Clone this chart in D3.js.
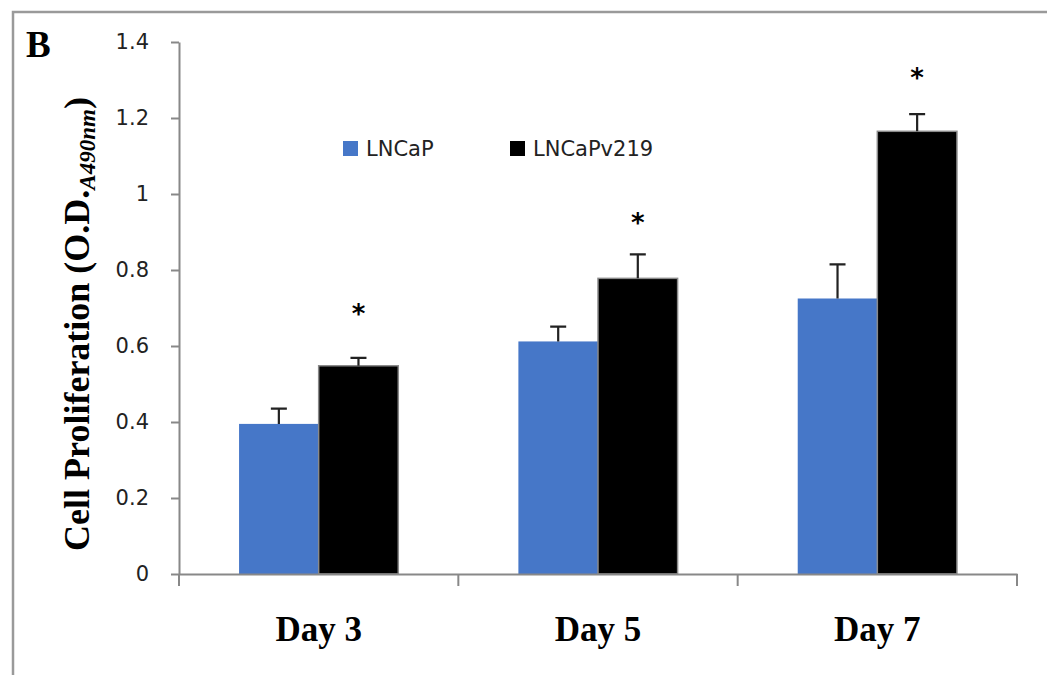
<!DOCTYPE html>
<html><head><meta charset="utf-8">
<script src="https://cdn.jsdelivr.net/npm/d3@7"></script>
<style>body{margin:0;background:#fff}</style></head>
<body><svg id="c" width="1047" height="675"></svg>
<script>
const days = ["Day 3", "Day 5", "Day 7"];
const series = ["LNCaP", "LNCaPv219"];
const lncap = [0.395, 0.612, 0.725];
const lncapErr = [0.040, 0.039, 0.090];
const v219 = [0.548, 0.778, 1.165];
const v219Err = [0.021, 0.063, 0.045];
const sigY = [0.70, 0.94, 1.32];
const yTicks = [0, 0.2, 0.4, 0.6, 0.8, 1, 1.2, 1.4];
const colors = ["#4677c8", "#000000"];

const svg = d3.select("#c");
const L = 179, R = 1017, T = 42, B = 574;

// frame
svg.append("path").attr("d", "M13,675V12H1047").attr("fill", "none")
  .attr("stroke", "#9a9a9a").attr("stroke-width", 2.5);

svg.append("text").attr("x", 26).attr("y", 57).text("B")
  .attr("font-family", "Liberation Serif, serif").attr("font-weight", "bold")
  .attr("font-size", 37).attr("fill", "#000");

const y = d3.scaleLinear().domain([0, 1.4]).range([B, T]);
const x = d3.scaleBand().domain(days).range([L, R]).padding(0);
const bw = x.bandwidth();
const x1 = d3.scaleBand().domain(series).range([bw * 0.215, bw * 0.785]).padding(0);

const rows = days.map((d, i) => ({day: d, vals: [
  {s: series[0], v: lncap[i], e: lncapErr[i]},
  {s: series[1], v: v219[i], e: v219Err[i]}
]}));

// bars
const g = svg.append("g");
const grp = g.selectAll("g.grp").data(rows).join("g")
  .attr("transform", d => `translate(${x(d.day)},0)`);
grp.selectAll("rect").data(d => d.vals).join("rect")
  .attr("x", d => x1(d.s)).attr("width", x1.bandwidth())
  .attr("y", d => y(d.v)).attr("height", d => y(0) - y(d.v))
  .attr("fill", (d, i) => colors[i])
  .attr("stroke", (d, i) => i === 1 ? "#8a8a8a" : "none")
  .attr("stroke-width", 1.5);
// error bars
grp.selectAll("path.err").data(d => d.vals).join("path")
  .attr("d", d => {
    const cx = x1(d.s) + x1.bandwidth() / 2;
    return `M${cx},${y(d.v)}V${y(d.v + d.e)}M${cx - 8},${y(d.v + d.e)}H${cx + 8}`;
  })
  .attr("stroke", "#222").attr("stroke-width", 2.2).attr("fill", "none");
// asterisks
grp.append("text")
  .attr("x", x1(series[1]) + x1.bandwidth() / 2)
  .attr("y", (d, i) => y(sigY[i]) + 15)
  .attr("text-anchor", "middle")
  .attr("font-family", "DejaVu Sans, sans-serif").attr("font-weight", "bold")
  .attr("font-size", 26).text("*");

// y axis
const ya = svg.append("g").attr("transform", `translate(${L},0)`)
  .call(d3.axisLeft(y).tickValues(yTicks).tickSize(8).tickSizeOuter(0).tickPadding(22).tickFormat(d => String(d)));
ya.select(".domain").attr("stroke", "#888").attr("stroke-width", 2);
ya.selectAll(".tick line").attr("stroke", "#888").attr("stroke-width", 2);
ya.selectAll(".tick text").attr("font-family", "DejaVu Sans, sans-serif").attr("font-size", 21).attr("fill", "#222");

// x axis
const xa = svg.append("g").attr("transform", `translate(0,${B})`)
  .call(d3.axisBottom(x).tickSize(0).tickPadding(42));
xa.select(".domain").attr("stroke", "#888").attr("stroke-width", 2);
xa.selectAll(".tick text").attr("font-family", "Liberation Serif, serif").attr("font-weight", "bold")
  .attr("font-size", 35).attr("fill", "#000");
const bounds = days.map(d => x(d)).concat([x.range()[1]]);
xa.selectAll("line.bt").data(bounds).join("line").attr("class", "bt")
  .attr("x1", d => d).attr("x2", d => d).attr("y1", 0).attr("y2", 12)
  .attr("stroke", "#888").attr("stroke-width", 2);

// y label
const yl = svg.append("text").attr("transform", `translate(89,324) rotate(-90)`)
  .attr("text-anchor", "middle")
  .attr("font-family", "Liberation Serif, serif").attr("font-weight", "bold")
  .attr("font-size", 36).attr("fill", "#000");
yl.append("tspan").text("Cell Proliferation (O.D.");
yl.append("tspan").attr("font-size", 23).attr("font-style", "italic").attr("dy", 6).text("A490nm");
yl.append("tspan").attr("dy", -6).text(")");

// legend
const lg = svg.append("g");
const legX = [343, 510];
series.forEach((s, i) => {
  lg.append("rect").attr("x", legX[i]).attr("y", 141).attr("width", 15).attr("height", 15).attr("fill", colors[i]);
  lg.append("text").attr("x", legX[i] + 23).attr("y", 156).text(s)
    .attr("font-family", "DejaVu Sans, sans-serif").attr("font-size", 21).attr("fill", "#222");
});
</script></body></html>
